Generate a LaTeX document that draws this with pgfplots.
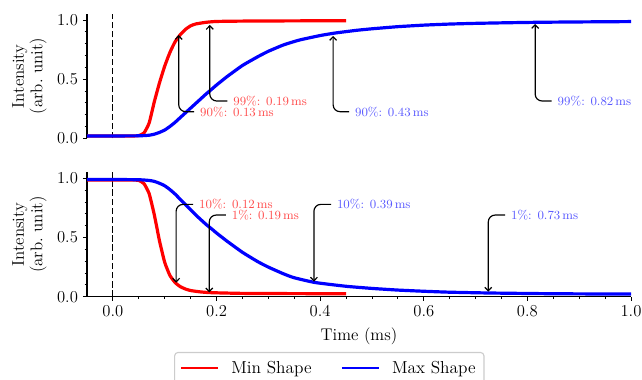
\documentclass[border=0pt]{standalone}
\usepackage{pgfplots}
\pgfplotsset{compat=1.18}
\usetikzlibrary{arrows.meta}

\newcommand{\anntext}[4]{%
  \node[anchor=west, inner sep=0pt, text=#3, font=\fontsize{9}{10.5}\selectfont] at (axis cs:#1,#2) {#4};
}
\tikzset{annarrow/.style={-{Straight Barb[length=2.6pt,width=5pt]}, line width=0.85pt, rounded corners=5pt, black}}

\begin{document}
\begin{tikzpicture}
\pgfplotsset{
  common/.style={
    scale only axis, width=391.68pt, height=89.5pt,
    xmin=-0.05, xmax=1.0, ymin=0, ymax=1.05,
    ytick={0,0.5,1}, minor y tick num=4,
    tick align=outside,
    major tick length=3pt, minor tick length=1.8pt,
    tick style={black, line width=0.6pt},
    axis line style={line width=0.8pt},
    tick label style={font=\fontsize{12.5}{14}\selectfont},
    yticklabel style={/pgf/number format/.cd, fixed, fixed zerofill, precision=1},
    ylabel={Intensity\\(arb.\ unit)},
    ylabel style={at={(axis description cs:-0.1057,0.5)}, anchor=center, align=center, font=\fontsize{12.2}{13.2}\selectfont},
  },
}

% ---------------- top axis ----------------
\begin{axis}[common,
  at={(62.64pt,-99.58pt)}, anchor=south west,
  axis x line=none, axis y line*=left, xtick=\empty,
]
\addplot[black, line width=0.75pt, dash pattern=on 4.6pt off 2pt, forget plot] coordinates {(0,0) (0,1.05)};
\addplot[red, line width=2.3pt, smooth, tension=0.3] table {
x y
-0.05 0.02
0.00 0.02
0.04 0.02
0.05 0.023
0.06 0.045
0.07 0.13
0.08 0.31
0.09 0.47
0.10 0.61
0.11 0.725
0.12 0.815
0.13 0.875
0.14 0.92
0.15 0.95
0.16 0.966
0.18 0.98
0.20 0.987
0.25 0.99
0.35 0.992
0.45 0.993
};
\addplot[blue, line width=2.3pt, smooth, tension=0.3] table {
x y
-0.05 0.02
0.00 0.02
0.05 0.021
0.07 0.026
0.08 0.035
0.09 0.05
0.10 0.07
0.11 0.10
0.12 0.135
0.13 0.175
0.14 0.215
0.15 0.255
0.16 0.295
0.17 0.335
0.18 0.375
0.19 0.412
0.20 0.45
0.22 0.52
0.25 0.615
0.28 0.69
0.30 0.735
0.33 0.79
0.36 0.83
0.40 0.868
0.43 0.89
0.47 0.912
0.50 0.925
0.55 0.943
0.60 0.956
0.65 0.965
0.70 0.971
0.76 0.976
0.82 0.98
0.90 0.983
1.00 0.986
};
\draw[annarrow] (axis cs:0.157,0.225) -| (axis cs:0.127,0.873);
\anntext{0.168}{0.225}{red!70}{90\%: 0.13\,ms}
\draw[annarrow] (axis cs:0.221,0.315) -| (axis cs:0.187,0.958);
\anntext{0.232}{0.315}{red!70}{99\%: 0.19\,ms}
\draw[annarrow] (axis cs:0.456,0.225) -| (axis cs:0.425,0.865);
\anntext{0.467}{0.225}{blue!65}{90\%: 0.43\,ms}
\draw[annarrow] (axis cs:0.847,0.315) -| (axis cs:0.815,0.966);
\anntext{0.858}{0.315}{blue!65}{99\%: 0.82\,ms}
\end{axis}

% ---------------- bottom axis ----------------
\begin{axis}[common,
  at={(62.64pt,-213.62pt)}, anchor=south west,
  axis lines*=left,
  xtick={0,0.2,0.4,0.6,0.8,1.0}, minor x tick num=3,
  xticklabel style={/pgf/number format/.cd, fixed, fixed zerofill, precision=1},
  xlabel={Time (ms)},
  xlabel style={at={(axis description cs:0.5,-0.32)}, anchor=center, font=\fontsize{12.2}{14}\selectfont},
  legend columns=2,
  legend cell align=left,
  legend style={at={(0.16,-0.444)}, anchor=north west, draw=black!20, line width=0.8pt,
    rounded corners=2.5pt, font=\fontsize{12.5}{14}\selectfont, inner xsep=4pt, inner ysep=4pt,
    /tikz/every odd column/.append style={column sep=7pt},
    /tikz/every even column/.append style={column sep=19pt}},
  legend image code/.code={\draw[#1, line width=1.5pt] (0pt,0pt) -- (26.4pt,0pt);},
]
\addplot[black, line width=0.75pt, dash pattern=on 4.6pt off 2pt, forget plot] coordinates {(0,0) (0,1.05)};
\addplot[red, line width=2.3pt, smooth, tension=0.3] table {
x y
-0.05 0.985
0.00 0.985
0.04 0.985
0.05 0.982
0.06 0.955
0.07 0.87
0.08 0.69
0.09 0.47
0.10 0.29
0.11 0.18
0.12 0.12
0.13 0.085
0.14 0.065
0.15 0.052
0.17 0.04
0.19 0.034
0.25 0.028
0.35 0.026
0.45 0.025
};
\addlegendentry{Min Shape}
\addplot[blue, line width=2.3pt, smooth, tension=0.3] table {
x y
-0.05 0.99
0.00 0.99
0.05 0.988
0.07 0.982
0.08 0.974
0.09 0.958
0.10 0.937
0.11 0.905
0.12 0.867
0.14 0.778
0.16 0.69
0.18 0.61
0.19 0.575
0.20 0.538
0.22 0.47
0.25 0.375
0.28 0.295
0.30 0.25
0.33 0.192
0.35 0.16
0.39 0.12
0.45 0.088
0.50 0.07
0.55 0.056
0.60 0.046
0.65 0.038
0.73 0.031
0.85 0.025
1.00 0.022
};
\addlegendentry{Max Shape}
\draw[annarrow] (axis cs:0.155,0.78) -| (axis cs:0.122,0.118);
\anntext{0.166}{0.78}{red!70}{10\%: 0.12\,ms}
\draw[annarrow] (axis cs:0.218,0.69) -| (axis cs:0.186,0.036);
\anntext{0.229}{0.69}{red!70}{1\%: 0.19\,ms}
\draw[annarrow] (axis cs:0.421,0.78) -| (axis cs:0.388,0.127);
\anntext{0.432}{0.78}{blue!65}{10\%: 0.39\,ms}
\draw[annarrow] (axis cs:0.757,0.69) -| (axis cs:0.7245,0.042);
\anntext{0.768}{0.69}{blue!65}{1\%: 0.73\,ms}
\end{axis}

\pgfresetboundingbox
\path[use as bounding box] (0pt,0pt) rectangle (462.24pt,-272.88pt);
\end{tikzpicture}
\end{document}
